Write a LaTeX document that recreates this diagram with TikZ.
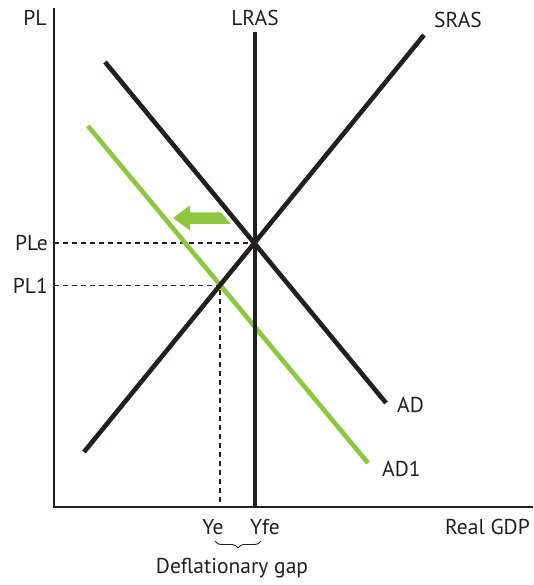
\documentclass[tikz,border=0pt]{standalone}
\usepackage{fontspec}
\setmainfont{PT Sans}
\usepackage{tikz}
\usetikzlibrary{positioning, decorations.pathreplacing}
\definecolor{curveBlack}{RGB}{35,31,32}
\definecolor{shiftGreen}{RGB}{141,198,63}
\tikzset{
    axis/.style={draw=curveBlack, line width=1.8pt},
    curve/.style={draw=#1, line width=4.6pt},
    curve/.default=curveBlack,
    guide/.style={draw=curveBlack, line width=1.2pt, dash pattern=on 5pt off 4pt},
    lbl/.style={font=\fontsize{21.5}{25}\selectfont, text=curveBlack, inner sep=1pt}
}

\begin{document}
\begin{tikzpicture}[x=1pt, y=1pt]
    \useasboundingbox (0,0) rectangle (534,585);

    % axes and curve end points
    \coordinate (origin) at (54,78);
    \coordinate (yTop) at (54,577);
    \coordinate (xEnd) at (533,78);
    \coordinate (lrasTop) at (255,553);
    \coordinate (lrasBot) at (255,78);
    \coordinate (srasLow) at (84,133);
    \coordinate (srasHigh) at (424,550);
    \coordinate (adHigh) at (105,523);
    \coordinate (adLow) at (386,182);
    \coordinate (adoneHigh) at (88,459);
    \coordinate (adoneLow) at (368,122);
    \coordinate (eqE) at (255,342);
    \coordinate (eqOne) at (220,299.5);

    \draw[axis] (yTop) -- (origin) -- (xEnd);

    \draw[guide] (origin |- eqE) -- (eqE);
    \draw[guide] (origin |- eqOne) -- (eqOne) -- (eqOne |- origin);

    \draw[curve=shiftGreen] (adoneHigh) -- (adoneLow);
    \draw[curve] (srasLow) -- (srasHigh);
    \draw[curve] (adHigh) -- (adLow);
    \draw[curve, line cap=butt] (lrasBot) -- (lrasTop);

    % shift arrow
    \fill[shiftGreen] (173,367) -- (190,379.5) -- (190,372.5) -- (221,372.5)
        -- (231,361) -- (190,361) -- (190,354.5) -- cycle;

    \node[lbl] (plLbl) at (35,567) {PL};
    \node[lbl] (lrasLbl) at (255,567) {LRAS};
    \node[lbl] (srasLbl) at (458,565) {SRAS};
    \node[lbl, anchor=east] (pleLbl) at (49,342) {PLe};
    \node[lbl, anchor=east] (ploneLbl) at (49,299.5) {PL1};
    \node[lbl, anchor=west] (adLbl) at (396,180) {AD};
    \node[lbl, anchor=west] (adoneLbl) at (381,116) {AD1};
    \node[lbl] (yeLbl) at (213,58) {Ye};
    \node[lbl] (yfeLbl) at (265,58) {Yfe};
    \node[lbl, anchor=east] (gdpLbl) at (531,58) {Real GDP};

    \coordinate (gapL) at (215,44);
    \coordinate (gapR) at (261,44);
    \draw[curveBlack, line width=0.9pt, decorate,
          decoration={brace, mirror, amplitude=7pt}] (gapL) -- (gapR);
    \node[lbl] (gapLbl) at (232,17) {Deflationary gap};
\end{tikzpicture}
\end{document}
